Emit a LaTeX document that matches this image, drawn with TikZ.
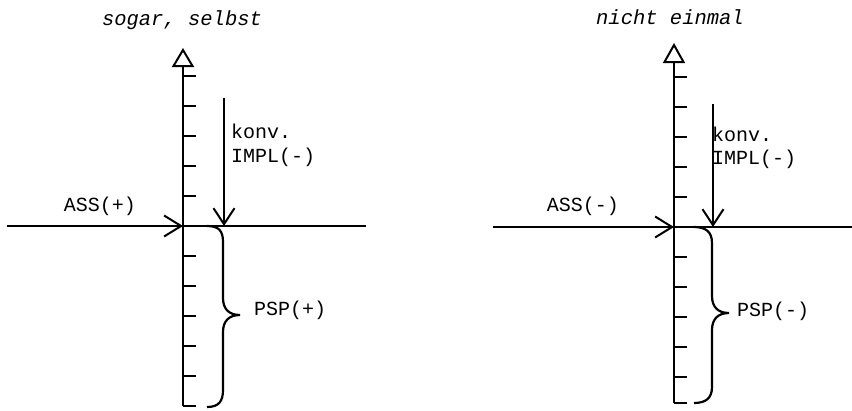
\documentclass[tikz,border=0pt]{standalone}
\usepackage{fontspec}
\setmonofont{Liberation Mono}
\usetikzlibrary{arrows.meta}
\begin{document}
\begin{tikzpicture}[x=1pt,y=-1pt, line width=2pt,
  lbl/.style={font=\ttfamily\fontsize{20}{22}\selectfont, inner sep=0pt, anchor=west},
  midlbl/.style={font=\ttfamily\fontsize{20}{22}\selectfont, inner sep=0pt},
  ttl/.style={font=\ttfamily\itshape\fontsize{20.5}{22}\selectfont, inner sep=0pt},
  tri/.style={line width=2pt, line join=miter, fill=white},
  assarrow/.style={-{Straight Barb[length=17pt,width=21pt,line width=2pt]}},
  konvarrow/.style={-{Straight Barb[length=16pt,width=21pt,line width=2pt]}},
  bracestyle/.style={line width=2.2pt}]
\useasboundingbox (0,0) rectangle (852,410);

% ---------------- left panel ----------------
\node[ttl] (Ltitle) at (182,20) {sogar, selbst};
\coordinate (Lorig) at (183,226);
\coordinate (Ltop) at (183,66);
\coordinate (Lbot) at (183,406);
\coordinate (Lhl) at (7,226);
\coordinate (Lhr) at (366,226);
\draw (Lbot) -- (Ltop);
\draw[tri] (173.5,66) -- (183,50) -- (192.5,66) -- cycle;
\draw (Lorig) -- (Lhr);
\draw[assarrow] (Lhl) -- (Lorig);
\foreach \y in {76,106,136,166,196,256,286,316,346,376,406}
  \draw (183,\y) -- (196,\y);
\coordinate (Lk) at (224,98);
\coordinate (Lkend) at (224,226);
\draw[konvarrow] (Lk) -- (Lkend);
\node[lbl] (Lkonv) at (230,131) {konv.};
\node[lbl] (Limpl) at (230,157) {IMPL(-)};
\node[midlbl] (Lass) at (100,206) {ASS(+)};
\draw[bracestyle] (207,226) .. controls (219,226) and (223,231) .. (223,242) -- (223,298)
  .. controls (223,309) and (229,315) .. (240,315)
  .. controls (229,315) and (223,321) .. (223,332) -- (223,390)
  .. controls (223,401) and (219,407) .. (207,407);
\node[lbl] (Lpsp) at (253,310) {PSP(+)};

% ---------------- right panel ----------------
\node[ttl] (Rtitle) at (670,17) {nicht einmal};
\coordinate (Rorig) at (674,227);
\coordinate (Rtop) at (674,62);
\coordinate (Rbot) at (674,403);
\coordinate (Rhl) at (493,227);
\coordinate (Rhr) at (852,227);
\draw (Rbot) -- (Rtop);
\draw[tri] (664.5,62) -- (674,45) -- (683.5,62) -- cycle;
\draw (Rorig) -- (Rhr);
\draw[assarrow] (Rhl) -- (Rorig);
\foreach \y in {77,107,137,167,197,257,287,317,347,377,403}
  \draw (674,\y) -- (687,\y);
\coordinate (Rk) at (713,104);
\coordinate (Rkend) at (713,227);
\draw[konvarrow] (Rk) -- (Rkend);
\node[lbl] (Rkonv) at (711,134) {konv.};
\node[lbl] (Rimpl) at (711,159) {IMPL(-)};
\node[midlbl] (Rass) at (583,206) {ASS(-)};
\draw[bracestyle] (694,227) .. controls (706,227) and (712,232) .. (712,243) -- (712,296)
  .. controls (712,307) and (718,313) .. (729,313)
  .. controls (718,313) and (712,319) .. (712,330) -- (712,387)
  .. controls (712,398) and (706,403) .. (694,403);
\node[lbl] (Rpsp) at (736,311) {PSP(-)};
\end{tikzpicture}
\end{document}
